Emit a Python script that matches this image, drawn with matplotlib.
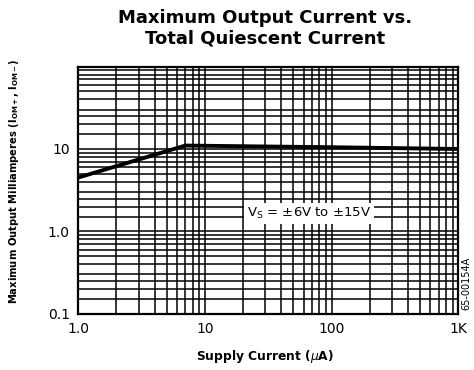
import matplotlib
matplotlib.use("Agg")
import matplotlib.pyplot as plt
from matplotlib.ticker import FixedLocator, LogLocator, NullFormatter

# data
supply_current = [1.0, 7.0, 100.0, 1000.0]
output_current = [4.5, 11.0, 10.5, 10.0]

x_ticks = [1, 10, 100, 1000]
x_labels = ["1.0", "10", "100", "1K"]
y_ticks = [0.1, 1, 10]
y_labels = ["0.1", "1.0", "10"]

narrow = ["DejaVu Sans Condensed", "Liberation Sans Narrow", "DejaVu Sans"]

fig = plt.figure(figsize=(4.74, 3.70), dpi=100)
ax = fig.add_axes([0.165, 0.152, 0.802, 0.668])

ax.set_xscale("log")
ax.set_yscale("log")
ax.set_xlim(1, 1000)
ax.set_ylim(0.1, 100)

ax.xaxis.set_major_locator(FixedLocator(x_ticks))
ax.yaxis.set_major_locator(FixedLocator(y_ticks))
ax.xaxis.set_minor_locator(LogLocator(base=10, subs=range(2, 10)))
ax.yaxis.set_minor_locator(LogLocator(base=10, subs=[1.5, 2, 2.5, 3, 4, 5, 6, 7, 8, 9]))
ax.xaxis.set_minor_formatter(NullFormatter())
ax.yaxis.set_minor_formatter(NullFormatter())
ax.set_xticklabels(x_labels)
ax.set_yticklabels(y_labels)
ax.tick_params(which="both", length=0, labelsize=10, pad=6)

ax.grid(True, which="both", color="black", linewidth=1.1)
for s in ax.spines.values():
    s.set_linewidth(1.6)

ax.plot(supply_current, output_current, color="black", linewidth=2.8, zorder=3)

ax.text(66, 1.66, r"V$_\mathregular{S}$ = $\pm$6V to $\pm$15V", fontsize=9.5,
        ha="center", va="center", zorder=4,
        bbox=dict(facecolor="white", edgecolor="none", pad=2))

ax.set_xlabel(r"Supply Current ($\mu$A)", family=narrow, fontweight="bold",
              fontsize=8.8)
ax.xaxis.set_label_coords(0.49, -0.14)
ax.set_ylabel(r"Maximum Output Milliamperes (I$_\mathregular{OM+}$, I$_\mathregular{OM-}$)",
              family=narrow, fontweight="bold", fontsize=7.2)
ax.yaxis.set_label_coords(-0.15, 0.535)

fig.text(0.56, 0.975, "Maximum Output Current vs.\nTotal Quiescent Current",
         ha="center", va="top", fontsize=13, fontweight="bold",
         linespacing=1.15)
fig.text(0.983, 0.235, "65-00154A", rotation=90, ha="center", va="center",
         fontsize=7, family=narrow)

fig.savefig("out.png", dpi=100)
